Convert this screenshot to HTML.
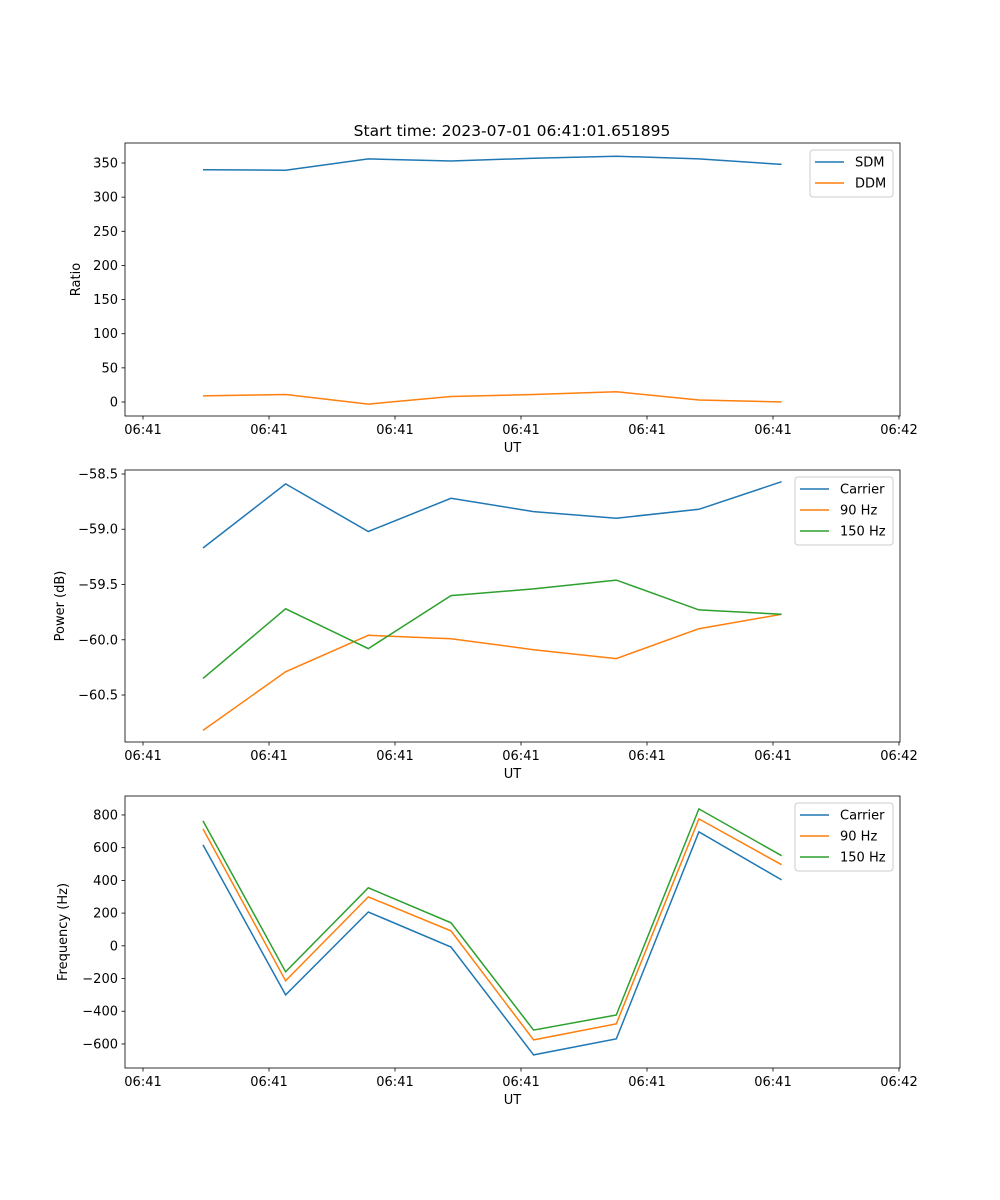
<!DOCTYPE html>
<html><head><meta charset="utf-8"><style>
body{margin:0;background:#fff}
svg{display:block}
text{font-family:"DejaVu Sans","Liberation Sans",sans-serif;font-size:13px;fill:#000}
</style></head><body>
<svg id="fig" width="1000" height="1200" xmlns="http://www.w3.org/2000/svg"></svg>
<script>
// data
const times = [4.76, 11.32, 17.88, 24.44, 31.0, 37.56, 44.12, 50.68];
const xTicks = [0, 10, 20, 30, 40, 50, 60];
const xTickLabels = ["06:41","06:41","06:41","06:41","06:41","06:41","06:42"];
const sdm = [340, 339.5, 356, 353, 357, 360, 356, 348];
const ddm = [9, 11, -3, 8, 11, 15, 3, 0];
const ratioTicks = [0, 50, 100, 150, 200, 250, 300, 350];
const pCarrier = [-59.17, -58.59, -59.02, -58.72, -58.84, -58.90, -58.82, -58.57];
const p90 = [-60.82, -60.29, -59.96, -59.99, -60.09, -60.17, -59.90, -59.77];
const p150 = [-60.35, -59.72, -60.08, -59.60, -59.54, -59.46, -59.73, -59.77];
const powerTicks = [-60.5, -60.0, -59.5, -59.0, -58.5];
const fCarrier = [617, -300, 207, -7, -667, -569, 697, 403];
const f90 = [715, -214, 299, 91, -575, -477, 776, 496];
const f150 = [764, -159, 355, 141, -515, -423, 837, 551];
const freqTicks = [-600, -400, -200, 0, 200, 400, 600, 800];

const NS = "http://www.w3.org/2000/svg";
const svg = document.getElementById('fig');
function el(tag, attrs, parent){const e=document.createElementNS(NS,tag);for(const k in attrs)e.setAttribute(k,attrs[k]);(parent||svg).appendChild(e);return e;}
const C = {blue:'#1f77b4', orange:'#ff7f0e', green:'#2ca02c'};
const X0=125, X1=900, xmin=-1.43, xmax=60.08;
const sx = t => X0 + (t - xmin) / (xmax - xmin) * (X1 - X0);

function panel(name, top, bot, ymin, ymax, ticks, fmt, ylabel, series, legend){
  const g = el('g', {});
  
  
  const sy = v => bot - (v - ymin) / (ymax - ymin) * (bot - top);
  // series
  series.forEach(s => {
    const d = s.vals.map((v,i)=>(i?'L':'M')+sx(times[i]).toFixed(1)+' '+sy(v).toFixed(1)).join(' ');
    const p = el('path', {d, fill:'none', stroke:s.color, 'stroke-width':1.5}, g);
    
    
  });
  el('rect', {x:X0, y:top, width:X1-X0, height:bot-top, fill:'none', stroke:'#000', 'stroke-width':0.8}, g);
  // x ticks
  xTicks.forEach((t,i)=>{
    const x=sx(t);
    el('line',{x1:x,x2:x,y1:bot,y2:bot+3.5,stroke:'#000','stroke-width':0.8},g);
    const tx=el('text',{x:x,y:bot+18,'text-anchor':'middle'},g);tx.textContent=xTickLabels[i];
  });
  const xl=el('text',{x:(X0+X1)/2,y:bot+36,'text-anchor':'middle'},g);xl.textContent='UT';
  
  
  ticks.forEach(v=>{
    const y=sy(v);
    el('line',{x1:X0-3.5,x2:X0,y1:y,y2:y,stroke:'#000','stroke-width':0.8},g);
    const tx=el('text',{x:X0-7,y:y+4.5,'text-anchor':'end'},g);tx.textContent=fmt(v);
  });
  const yl=el('text',{x:0,y:0,'text-anchor':'middle',transform:`translate(${ylabel.x},${(top+bot)/2}) rotate(-90)`},g);
  yl.textContent=ylabel.t;
  
  
  // legend
  const lg=el('g',{},g);
  
  
  const h=series.length*21+5;
  el('rect',{x:legend.x,y:top+7,width:X1-7-legend.x,height:h,rx:3,fill:'#fff','fill-opacity':0.8,stroke:'#ccc','stroke-width':1},lg);
  series.forEach((s,i)=>{
    const y=top+19+i*21;
    el('line',{x1:legend.x+5,x2:legend.x+34,y1:y,y2:y,stroke:s.color,'stroke-width':1.5},lg);
    const t=el('text',{x:legend.x+45,y:y+4.5},lg);t.textContent=s.label;
  });
}
const t=el('text',{x:512,y:136,'text-anchor':'middle',style:'font-size:15.5px'});
t.textContent='Start time: 2023-07-01 06:41:01.651895';



panel('ratio-panel',143,416,-20.5,379.3,ratioTicks,v=>String(v),{x:80,t:'Ratio'},
  [{id:'sdm-line',vals:sdm,color:C.blue,label:'SDM'},{id:'ddm-line',vals:ddm,color:C.orange,label:'DDM'}],{x:810});
panel('power-panel',470,742,-60.925,-58.464,powerTicks,v=>v.toFixed(1).replace('-','\u2212'),{x:64,t:'Power (dB)'},
  [{id:'power-carrier-line',vals:pCarrier,color:C.blue,label:'Carrier'},{id:'power-90hz-line',vals:p90,color:C.orange,label:'90 Hz'},{id:'power-150hz-line',vals:p150,color:C.green,label:'150 Hz'}],{x:795});
panel('frequency-panel',796,1068,-747,916,freqTicks,v=>String(v).replace('-','\u2212'),{x:67,t:'Frequency (Hz)'},
  [{id:'freq-carrier-line',vals:fCarrier,color:C.blue,label:'Carrier'},{id:'freq-90hz-line',vals:f90,color:C.orange,label:'90 Hz'},{id:'freq-150hz-line',vals:f150,color:C.green,label:'150 Hz'}],{x:795});
</script>
</body></html>
